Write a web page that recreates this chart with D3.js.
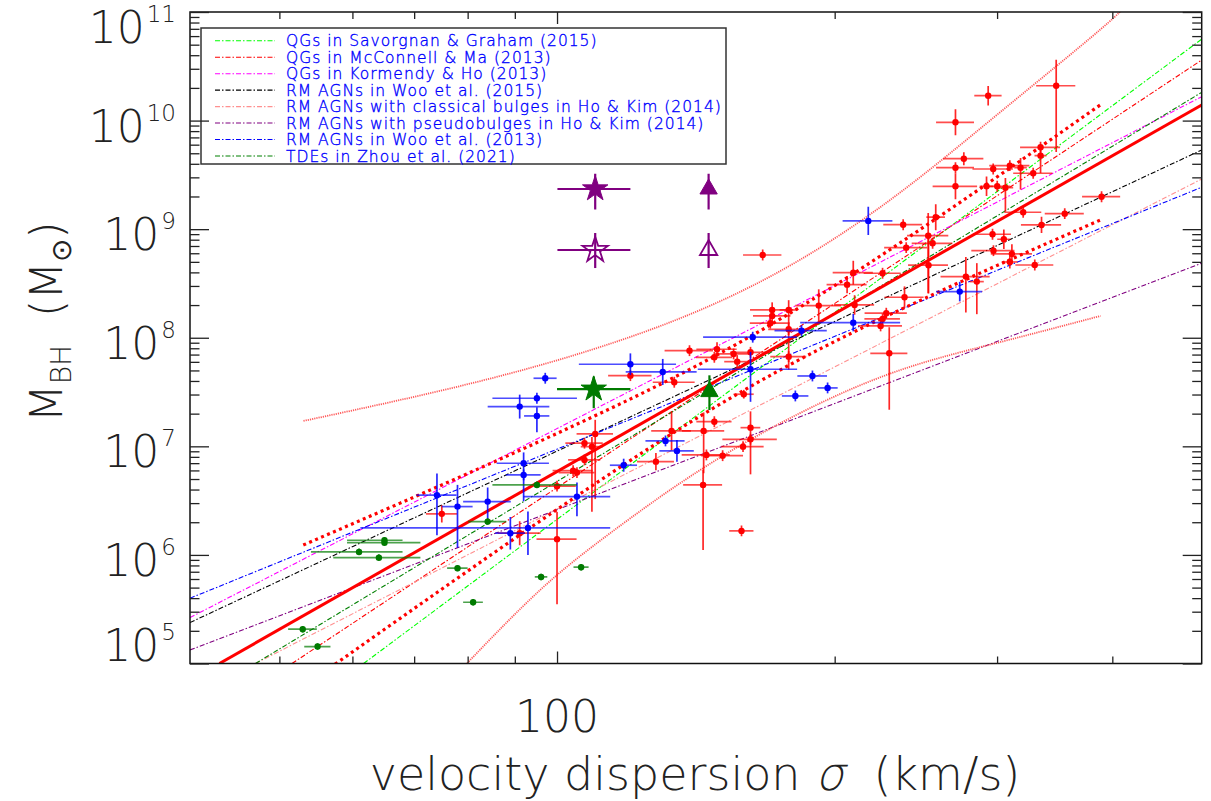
<!DOCTYPE html>
<html>
<head>
<meta charset="utf-8">
<script src="https://cdn.jsdelivr.net/npm/d3@7"></script>
<style>
  body { margin: 0; background: #fff; }
  svg text { font-family: "DejaVu Sans", sans-serif; font-weight: 200; }
</style>
</head>
<body>
<div id="chart"></div>
<script>
// Axis ranges and ticks
const sigmaRange = [40, 500];
const massRange = [1e5, 1e11];
const sigmaMajor = [100];
const sigmaMinor = [50, 60, 70, 80, 90, 200, 300, 400];
const massExponents = [5, 6, 7, 8, 9, 10, 11];

// Legend / published relations: [sigma1, logM1, sigma2, logM2]
const legendLabels = [
  "QGs in Savorgnan & Graham (2015)",
  "QGs in McConnell & Ma (2013)",
  "QGs in Kormendy & Ho (2013)",
  "RM AGNs in Woo et al. (2015)",
  "RM AGNs with classical bulges in Ho & Kim (2014)",
  "RM AGNs with pseudobulges in Ho & Kim (2014)",
  "RM AGNs in Woo et al. (2013)",
  "TDEs in Zhou et al. (2021)"
];
const legendColors = ["#00ff00", "#ff0000", "#ff00ff", "#000000", "#ff9090", "#800080", "#0000ff", "#008000"];
const relationEnds = [
  [61.7, 5.0, 500, 10.75],
  [51.6, 5.0, 500, 10.558],
  [40, 5.423, 500, 10.22],
  [40, 5.377, 500, 9.729],
  [47.1, 5.0, 500, 9.462],
  [40, 5.125, 500, 8.686],
  [40, 5.601, 500, 9.386],
  [47.1, 5.0, 500, 10.26]
];

// Best fit of this work and its bands: [sigma, logM]
const fitEnds = [[43.05, 5.0], [500, 10.144]];
const fitBandUpper = [[53.07, 6.091], [67.6, 6.477], [86.8, 6.883], [111.4, 7.304], [143.0, 7.760], [183.6, 8.284], [235.7, 8.876], [302.6, 9.503], [388.4, 10.146]];
const fitBandLower = [[53.07, 4.787], [67.6, 5.416], [86.8, 6.060], [111.4, 6.687], [143.0, 7.279], [183.6, 7.803], [235.7, 8.259], [302.6, 8.680], [388.4, 9.085]];
const scatterUpper = [[53.1, 7.234], [67.6, 7.427], [86.8, 7.648], [111.4, 7.915], [143.0, 8.256], [183.6, 8.720], [235.7, 9.340], [302.6, 10.080], [388.4, 10.840], [420, 11.12]];
const scatterLower = [[79.9, 5.003], [95.9, 5.678], [114.3, 6.203], [143.0, 6.783], [183.6, 7.308], [235.7, 7.703], [302.6, 7.961], [388.4, 8.201]];

// Samples: [sigma, sigmaErrLo, sigmaErrHi, logM, logMErrLo, logMErrHi]
const redPoints = [
  [75.0, 2.9, 2.9, 6.378, 0.08, 0.08], [91.1, 4.9, 4.9, 6.200, 0.11, 0.11],
  [100.0, 4.8, 4.8, 6.633, 0.05, 0.05], [100.0, 5.0, 5.0, 6.145, 0.60, 0.25],
  [104.1, 5.2, 5.2, 6.776, 0.05, 0.05], [105.1, 4.7, 4.7, 6.758, 0.05, 0.05],
  [107.1, 5.0, 5.0, 7.029, 0.05, 0.05], [107.1, 4.3, 4.3, 6.875, 0.05, 0.05],
  [109.1, 3.0, 3.0, 6.997, 0.60, 0.09], [110.0, 5.0, 5.0, 7.114, 0.60, 0.13],
  [120.1, 6.5, 6.5, 7.651, 0.05, 0.05], [134.0, 7.0, 7.0, 7.590, 0.05, 0.05],
  [139.2, 8.4, 8.4, 7.881, 0.05, 0.05], [149.1, 7.5, 7.5, 7.894, 0.065, 0.065],
  [148.1, 6.7, 6.7, 7.820, 0.05, 0.05], [155.4, 7.0, 7.0, 7.851, 0.05, 0.05],
  [156.8, 5.0, 5.0, 7.780, 0.06, 0.06], [162.1, 8.1, 8.1, 7.866, 0.05, 0.05],
  [171.1, 9.2, 9.2, 8.256, 0.07, 0.07], [170.3, 8.5, 8.5, 8.134, 0.05, 0.05],
  [178.3, 4.0, 4.0, 8.256, 0.55, 0.09], [178.3, 8.9, 8.9, 8.078, 0.05, 0.05],
  [178.3, 8.0, 8.0, 7.826, 0.05, 0.05], [159.4, 4.0, 4.0, 7.480, 0.04, 0.04],
  [148.1, 6.5, 6.5, 7.227, 0.05, 0.05], [144.2, 7.6, 7.6, 7.142, 0.39, 0.17],
  [162.1, 4.0, 4.0, 7.172, 0.43, 0.15], [162.1, 11.0, 11.0, 7.065, 0.05, 0.05],
  [159.1, 8.4, 8.4, 6.997, 0.05, 0.05], [145.2, 8.7, 8.7, 6.921, 0.05, 0.05],
  [151.2, 7.9, 7.9, 6.914, 0.05, 0.05], [133.1, 6.6, 6.6, 7.142, 0.18, 0.18],
  [128.0, 5.9, 5.9, 6.859, 0.08, 0.08], [144.0, 7.0, 7.0, 6.645, 0.60, 0.14],
  [158.5, 4.8, 4.8, 6.221, 0.05, 0.05],
  [347.7, 17, 17, 10.321, 0.61, 0.24], [293.4, 10, 10, 10.229, 0.09, 0.09],
  [270.4, 12.8, 12.8, 9.984, 0.12, 0.12], [276.1, 13.8, 13.8, 9.649, 0.06, 0.06],
  [270.4, 12.8, 12.8, 9.566, 0.05, 0.05], [270.4, 15, 15, 9.395, 0.12, 0.12],
  [297.1, 15, 15, 9.554, 0.05, 0.05], [309.7, 15.5, 15.5, 9.585, 0.05, 0.05],
  [318.1, 5, 5, 9.566, 0.20, 0.09], [334.4, 16.7, 16.7, 9.754, 0.05, 0.05],
  [334.4, 5, 5, 9.677, 0.16, 0.08], [328.3, 16, 16, 9.515, 0.05, 0.05],
  [292.2, 5, 5, 9.395, 0.09, 0.09], [300.1, 10, 10, 9.395, 0.05, 0.05],
  [306.3, 6, 6, 9.382, 0.22, 0.09], [389.4, 18.5, 18.5, 9.299, 0.05, 0.05],
  [320.2, 14.8, 14.8, 9.156, 0.05, 0.05], [355.2, 17.3, 17.3, 9.143, 0.05, 0.05],
  [335.2, 16.8, 16.8, 9.039, 0.075, 0.075], [296.6, 14, 14, 8.953, 0.05, 0.05],
  [305.1, 5, 5, 8.907, 0.09, 0.09], [297.3, 16, 16, 8.802, 0.05, 0.05],
  [311.3, 16, 16, 8.772, 0.09, 0.09], [309.7, 6, 6, 8.698, 0.06, 0.06],
  [329.6, 15.6, 15.6, 8.670, 0.05, 0.05], [237.3, 11.5, 11.5, 9.041, 0.05, 0.05],
  [257.4, 6, 6, 9.110, 0.12, 0.12], [252.6, 13, 13, 8.940, 0.53, 0.21],
  [255.4, 13, 13, 8.870, 0.05, 0.05], [239.1, 12.8, 12.8, 8.830, 0.05, 0.05],
  [252.8, 12.6, 12.6, 8.668, 0.26, 0.26], [225.4, 10.4, 10.4, 8.594, 0.05, 0.05],
  [209.5, 10.5, 10.5, 8.599, 0.11, 0.11], [206.3, 10.3, 10.3, 8.489, 0.08, 0.08],
  [167.1, 8, 8, 8.762, 0.05, 0.05], [277.5, 17, 17, 8.563, 0.33, 0.18],
  [285.2, 5, 5, 8.517, 0.30, 0.17], [238.1, 11.6, 11.6, 8.373, 0.10, 0.10],
  [210.2, 10.5, 10.5, 8.302, 0.09, 0.09], [192.2, 11, 11, 8.296, 0.15, 0.15],
  [171.1, 8, 8, 8.201, 0.05, 0.05], [227.5, 12, 12, 8.226, 0.05, 0.05],
  [225.4, 10, 10, 8.173, 0.05, 0.05], [224.3, 12.3, 12.3, 8.109, 0.05, 0.05],
  [229.2, 10.6, 10.6, 7.857, 0.52, 0.24]
];
const bluePoints = [
  [74.1, 3.7, 3.7, 6.550, 0.37, 0.20], [78.0, 3.0, 3.0, 6.445, 0.38, 0.20],
  [84.1, 5.0, 5.0, 6.491, 0.18, 0.13], [92.0, 6.0, 6.0, 6.844, 0.35, 0.10],
  [92.0, 4.0, 4.0, 6.737, 0.05, 0.05], [89.0, 3.3, 3.3, 6.200, 0.15, 0.15],
  [93.0, 31.8, 21.2, 6.249, 0.25, 0.15], [105.1, 13.1, 9.1, 6.537, 0.18, 0.13],
  [97.1, 2.8, 2.8, 7.627, 0.05, 0.05], [95.1, 10, 10, 7.443, 0.05, 0.05],
  [91.1, 7, 7, 7.366, 0.11, 0.11], [95.1, 3, 3, 7.280, 0.15, 0.08],
  [120.1, 14.5, 14.5, 7.756, 0.10, 0.10], [130.2, 11.5, 11.5, 7.685, 0.12, 0.12],
  [163.0, 19, 19, 8.005, 0.05, 0.05], [162.1, 20, 20, 7.710, 0.30, 0.16],
  [181.3, 6, 6, 7.464, 0.05, 0.05], [131.1, 6.4, 6.4, 7.050, 0.05, 0.05],
  [134.9, 5.8, 5.8, 6.958, 0.10, 0.10], [118.1, 4, 4, 6.826, 0.06, 0.06],
  [217.5, 13.5, 13.5, 9.076, 0.13, 0.13], [273.3, 15.7, 15.7, 8.425, 0.09, 0.09],
  [209.5, 26, 26, 8.139, 0.08, 0.08], [184.1, 12, 12, 8.065, 0.05, 0.05],
  [189.2, 7, 7, 7.648, 0.05, 0.05], [196.5, 5, 5, 7.538, 0.05, 0.05]
];
const greenPoints = [
  [53.0, 1.9, 1.9, 5.316, 0.03, 0.03], [55.0, 1.8, 1.8, 5.156, 0.03, 0.03],
  [65.0, 5.8, 3.0, 6.135, 0.03, 0.03], [65.0, 5.8, 6.1, 6.113, 0.03, 0.03],
  [61.0, 6.9, 7.0, 6.028, 0.03, 0.03], [64.1, 6.9, 7.0, 5.975, 0.03, 0.03],
  [78.0, 2.0, 2.0, 5.878, 0.03, 0.03], [81.1, 2.0, 2.0, 5.564, 0.03, 0.03],
  [84.1, 4.0, 4.0, 6.307, 0.03, 0.03], [96.1, 1.5, 1.5, 5.797, 0.03, 0.03],
  [106.2, 2.0, 2.0, 5.887, 0.03, 0.03], [95.1, 10, 10, 6.645, 0.03, 0.03]
];

// Special objects: [sigma, sLo, sHi, logM, mLo, mHi]
const purpleFilled = [[110, 9.9, 10.1, 9.370, 0.19, 0.14], [146, 0, 0, 9.370, 0.19, 0.14]];
const purpleOpen = [[110, 9.9, 10.1, 8.808, 0.166, 0.157], [146, 0, 0, 8.808, 0.166, 0.157]];
const greenSpecial = [[109.6, 9.6, 10.5, 7.526, 0.175, 0.116], [146.3, 0, 0, 7.504, 0.17, 0.15]];
const specialShapes = ["star", "triangle"];

// ---------------------------------------------------------------
const W = 1211, H = 801;
const pLeft = 190, pRight = 1201.7, pTop = 12, pBottom = 663.5;

const x = d3.scaleLog().domain(sigmaRange).range([pLeft, pRight]);
const y = d3.scaleLog().domain(massRange).range([pBottom, pTop]);
const M = (v) => Math.pow(10, v);

const svg = d3.select("#chart").append("svg")
  .attr("width", W).attr("height", H)
  .attr("viewBox", [0, 0, W, H]);

svg.append("defs").append("clipPath").attr("id", "plotClip")
  .append("rect").attr("x", pLeft).attr("y", pTop)
  .attr("width", pRight - pLeft).attr("height", pBottom - pTop);

const plot = svg.append("g").attr("clip-path", "url(#plotClip)");

const line = d3.line().x((d) => x(d[0])).y((d) => y(M(d[1])));
const smooth = d3.line().x((d) => x(d[0])).y((d) => y(M(d[1]))).curve(d3.curveNatural);

const dashDot = "5,2,1.5,2";

// Published relations (thin dash-dot)
relationEnds.forEach((r, i) => {
  plot.append("path")
    .datum([[r[0], r[1]], [r[2], r[3]]])
    .attr("fill", "none")
    .attr("stroke", legendColors[i])
    .attr("stroke-width", 1.1)
    .attr("stroke-dasharray", dashDot)
    .attr("d", line);
});

// Scatter band (thin dotted)
[scatterUpper, scatterLower].forEach((band) => {
  plot.append("path")
    .datum(band)
    .attr("fill", "none")
    .attr("stroke", "#ff5a5a")
    .attr("stroke-width", 1.8)
    .attr("stroke-dasharray", "1.2,1")
    .attr("d", smooth);
});

// Fit bands (thick dotted)
[fitBandUpper, fitBandLower].forEach((band) => {
  plot.append("path")
    .datum(band)
    .attr("fill", "none")
    .attr("stroke", "#ff0000")
    .attr("stroke-width", 3.2)
    .attr("stroke-dasharray", "3,3.5")
    .attr("d", smooth);
});

// Best fit
plot.append("path")
  .datum(fitEnds)
  .attr("fill", "none")
  .attr("stroke", "#ff0000")
  .attr("stroke-width", 3)
  .attr("d", line);

// Error bars + dots
function drawSample(rows, color, r) {
  const g = plot.append("g");
  rows.forEach(([s, sLo, sHi, lm, mLo, mHi]) => {
    const cx = x(s), cy = y(M(lm));
    if (sLo + sHi > 0) {
      g.append("line")
        .attr("x1", x(s - sLo)).attr("x2", x(s + sHi))
        .attr("y1", cy).attr("y2", cy)
        .attr("stroke", color).attr("stroke-width", 1.7)
        .attr("stroke-opacity", 0.7);
    }
    if (mLo + mHi > 0) {
      g.append("line")
        .attr("x1", cx).attr("x2", cx)
        .attr("y1", y(M(lm - mLo))).attr("y2", y(M(lm + mHi)))
        .attr("stroke", color).attr("stroke-width", 1.7)
        .attr("stroke-opacity", 0.85);
    }
  });
  g.selectAll("circle")
    .data(rows)
    .join("circle")
    .attr("cx", (d) => x(d[0]))
    .attr("cy", (d) => y(M(d[3])))
    .attr("r", r)
    .attr("fill", color);
}

drawSample(redPoints, "#ff0000", 3.2);
drawSample(bluePoints, "#0000ff", 3.2);
drawSample(greenPoints, "#007a00", 3.2);

// Special markers
const symbolFor = { star: d3.symbolStar, triangle: d3.symbolTriangle };
const symbolSize = { star: 200, triangle: 130 };

function drawSpecial(rows, color, filled) {
  const g = plot.append("g");
  rows.forEach(([s, sLo, sHi, lm, mLo, mHi], i) => {
    const cx = x(s), cy = y(M(lm));
    if (sLo + sHi > 0) {
      g.append("line")
        .attr("x1", x(s - sLo)).attr("x2", x(s + sHi))
        .attr("y1", cy).attr("y2", cy)
        .attr("stroke", color).attr("stroke-width", 2.2);
    }
    g.append("line")
      .attr("x1", cx).attr("x2", cx)
      .attr("y1", y(M(lm - mLo))).attr("y2", y(M(lm + mHi)))
      .attr("stroke", color).attr("stroke-width", 2.2);
    const shape = specialShapes[i];
    g.append("path")
      .attr("transform", `translate(${cx},${cy})`)
      .attr("d", d3.symbol().type(symbolFor[shape]).size(symbolSize[shape])())
      .attr("fill", filled ? color : "none")
      .attr("stroke", color)
      .attr("stroke-width", filled ? 1 : 1.8);
  });
}

drawSpecial(purpleFilled, "#800080", true);
drawSpecial(purpleOpen, "#800080", false);
drawSpecial(greenSpecial, "#007a00", true);

// Legend
const legend = svg.append("g");
legend.append("rect")
  .attr("x", 201).attr("y", 28)
  .attr("width", 525).attr("height", 136)
  .attr("fill", "#fff")
  .attr("stroke", "#333")
  .attr("stroke-width", 1.5);

legendLabels.forEach((label, i) => {
  const ly = 40.8 + i * 16.45;
  legend.append("line")
    .attr("x1", 215).attr("x2", 275)
    .attr("y1", ly).attr("y2", ly)
    .attr("stroke", legendColors[i])
    .attr("stroke-width", 1.1)
    .attr("stroke-dasharray", dashDot);
  legend.append("text")
    .attr("x", 286).attr("y", ly)
    .attr("dy", "0.36em")
    .attr("fill", "#0000ff")
    .attr("stroke", "#0000ff")
    .attr("stroke-width", 0.35)
    .style("font-size", "15.5px")
    .style("letter-spacing", "1px")
    .text(label);
});

// Frame
svg.append("rect")
  .attr("x", pLeft).attr("y", pTop)
  .attr("width", pRight - pLeft).attr("height", pBottom - pTop)
  .attr("fill", "none")
  .attr("stroke", "#111")
  .attr("stroke-width", 1.5);

// Ticks
const massMajor = massExponents.map((e) => M(e));
const massMinor = [];
massExponents.slice(0, -1).forEach((e) => {
  for (let k = 2; k <= 9; k++) massMinor.push(k * M(e));
});

function ticks(axis, tx, ty, values, size) {
  svg.append("g")
    .attr("transform", `translate(${tx},${ty})`)
    .call(axis.tickValues(values).tickSize(-size).tickSizeOuter(0).tickFormat(""))
    .call((g) => g.select(".domain").remove())
    .call((g) => g.selectAll("line").attr("stroke", "#222").attr("stroke-width", 1.3));
}

ticks(d3.axisLeft(y), pLeft, 0, massMajor, 19);
ticks(d3.axisLeft(y), pLeft, 0, massMinor, 9.5);
ticks(d3.axisRight(y), pRight, 0, massMajor, 19);
ticks(d3.axisRight(y), pRight, 0, massMinor, 9.5);
ticks(d3.axisBottom(x), 0, pBottom, sigmaMajor, 12);
ticks(d3.axisBottom(x), 0, pBottom, sigmaMinor, 7);
ticks(d3.axisTop(x), 0, pTop, sigmaMajor, 12);
ticks(d3.axisTop(x), 0, pTop, sigmaMinor, 7);

// Tick labels: "10" with exponent, right-aligned as a whole
const labelColor = "#222";
massExponents.forEach((e) => {
  const cy = Math.min(Math.max(y(M(e)) + 5, 27), 645);
  const t = svg.append("text")
    .attr("fill", labelColor)
    .attr("x", 176).attr("y", cy + 16)
    .attr("text-anchor", "end")
    .style("font-size", "44px");
  t.append("tspan").text("10");
  t.append("tspan").attr("dx", 2).attr("dy", -21).style("font-size", "23px").text(String(e));
});

sigmaMajor.forEach((v) => {
  svg.append("text")
    .attr("x", x(v)).attr("y", 732)
    .attr("text-anchor", "middle")
    .attr("fill", labelColor)
    .style("font-size", "44px")
    .text(String(v));
});

// Axis titles
const xTitle = ["velocity dispersion ", "σ", "  (km/s)"];
const xParts = xTitle.map((s) => svg.append("text")
  .attr("y", 790)
  .attr("fill", labelColor)
  .style("font-size", "46px")
  .style("white-space", "pre")
  .text(s));
const widths = xParts.map((p) => p.node().getComputedTextLength());
let xPos = 695 - d3.sum(widths) / 2;
xParts.forEach((p, i) => {
  if (i === 1) {
    p.attr("transform", `translate(${xPos},790) skewX(-14)`).attr("y", 0);
  } else {
    p.attr("x", xPos);
  }
  xPos += widths[i];
});

const yt = svg.append("text")
  .attr("transform", "translate(62,322) rotate(-90)")
  .attr("text-anchor", "middle")
  .attr("fill", labelColor)
  .style("font-size", "44px")
  .style("white-space", "pre");
yt.append("tspan").text("M");
yt.append("tspan").attr("dy", 9).style("font-size", "28px").text("BH");
yt.append("tspan").attr("dy", -9).text("  (M");
yt.append("tspan").attr("dy", 9).style("font-size", "28px").text("⊙");
yt.append("tspan").attr("dy", -9).text(")");
</script>
</body>
</html>
